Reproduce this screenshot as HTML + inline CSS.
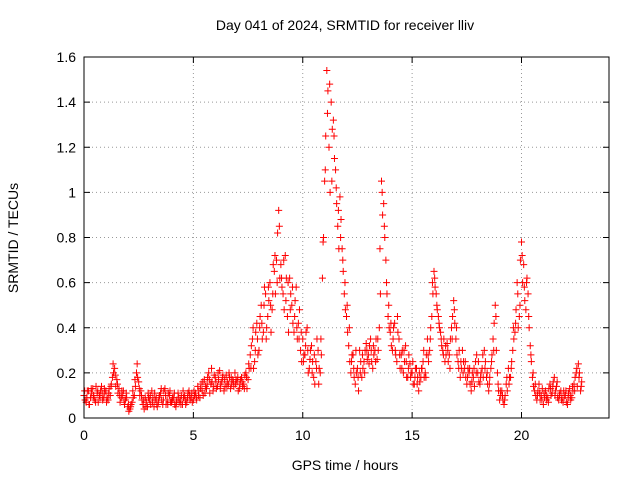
<!DOCTYPE html>
<html><head><meta charset="utf-8"><style>
body{margin:0;background:#fff;}
svg{display:block;font-family:"Liberation Sans",sans-serif;}
</style></head><body>
<svg id="chart" width="640" height="480">
<rect x="0" y="0" width="640" height="480" fill="#fff"/>
<text x="345" y="30" font-size="14" text-anchor="middle">Day 041 of 2024, SRMTID for receiver lliv</text>
<text x="345" y="470" font-size="14" text-anchor="middle">GPS time / hours</text>
<text transform="translate(18,238) rotate(-90)" font-size="14" text-anchor="middle">SRMTID / TECUs</text>
<g id="grid"></g><g id="ticks"></g><g id="marks"></g>
<rect x="84" y="57" width="525" height="361" fill="none" stroke="#000" stroke-width="1"/>
</svg>
<script>
const xTicks=[0,5,10,15,20];
const yTicks=[0,0.2,0.4,0.6,0.8,1,1.2,1.4,1.6];
const yTickLabels=["0","0.2","0.4","0.6","0.8","1","1.2","1.4","1.6"];
const startHour=0, stepHour=0.1;
const srmtidA=[0.10,0.07,0.12,0.09,0.13,0.08,0.11,0.10,0.14,0.09,
0.12,0.08,0.10,0.18,0.22,0.17,0.13,0.09,0.12,0.08,
0.05,0.04,0.07,0.10,0.20,0.16,0.12,0.06,0.09,0.05,
0.08,0.12,0.05,0.09,0.07,0.11,0.06,0.13,0.08,0.10,
0.07,0.09,0.05,0.11,0.08,0.06,0.10,0.07,0.12,0.09,
0.08,0.11,0.14,0.09,0.12,0.17,0.13,0.20,0.15,0.12,
0.18,0.14,0.21,0.16,0.12,0.19,0.15,0.13,0.17,0.20,
0.16,0.13,0.18,0.15,0.20,0.17,0.28,0.35,0.25,0.42,
0.30,0.50,0.38,0.55,0.45,0.60,0.48,0.65,0.70,0.92,
0.68,0.55,0.72,0.45,0.62,0.50,0.38,0.58,0.42,0.30,
0.35,0.28,0.40,0.22,0.32,0.18,0.25,0.30,0.20,0.62,
1.05,1.54,1.20,1.40,1.32,1.10,0.85,0.98,0.75,0.55,
0.45,0.32,0.20,0.28,0.15,0.22,0.30,0.18,0.25,0.33,
0.28,0.35,0.22,0.30,0.26,0.40,1.05,0.95,0.70,0.45,
0.38,0.30,0.42,0.25,0.35,0.28,0.20,0.32,0.18,0.24,
0.20,0.15,0.22,0.12,0.18,0.25,0.20,0.35,0.30,0.45,
0.65,0.55,0.45,0.38,0.30,0.25,0.33,0.28,0.40,0.52,
0.35,0.25,0.18,0.30,0.22,0.15,0.20,0.12,0.18,0.25,
0.20,0.15,0.22,0.30,0.18,0.12,0.22,0.35,0.50,0.20,
0.08,0.12,0.06,0.15,0.22,0.18,0.30,0.38,0.60,0.45,
0.78,0.68,0.48,0.55,0.32,0.18,0.12,0.08,0.15,0.10,
0.06,0.12,0.09,0.15,0.11,0.18,0.14,0.08,0.12,0.07,
0.10,0.06,0.13,0.09,0.15,0.20,0.24,0.12];
const srmtidB=[0.08,0.12,0.06,0.11,0.09,0.14,0.07,0.12,0.08,0.11,
0.09,0.13,0.15,0.20,0.14,0.11,0.07,0.10,0.06,0.09,
0.03,0.06,0.09,0.14,0.18,0.10,0.08,0.04,0.07,0.09,
0.06,0.09,0.08,0.05,0.10,0.08,0.12,0.06,0.11,0.07,
0.09,0.06,0.08,0.07,0.10,0.09,0.06,0.11,0.08,0.07,
0.10,0.08,0.12,0.15,0.10,0.14,0.18,0.11,0.16,0.19,
0.13,0.17,0.15,0.19,0.14,0.16,0.18,0.15,0.14,0.17,
0.12,0.17,0.14,0.19,0.13,0.22,0.32,0.22,0.38,0.28,
0.45,0.35,0.58,0.40,0.52,0.38,0.68,0.55,0.82,0.62,
0.58,0.48,0.62,0.38,0.55,0.42,0.52,0.35,0.48,0.25,
0.28,0.38,0.20,0.30,0.25,0.15,0.35,0.22,0.28,0.80,
1.25,1.45,1.00,1.28,1.15,0.95,0.75,0.88,0.65,0.48,
0.38,0.25,0.28,0.18,0.20,0.12,0.25,0.22,0.30,0.26,
0.32,0.25,0.28,0.35,0.30,0.55,0.90,0.80,0.55,0.40,
0.32,0.40,0.28,0.38,0.22,0.30,0.25,0.18,0.28,0.20,
0.15,0.22,0.18,0.16,0.22,0.18,0.28,0.25,0.40,0.55,
0.58,0.48,0.40,0.32,0.35,0.28,0.25,0.35,0.45,0.42,
0.28,0.30,0.22,0.25,0.18,0.22,0.15,0.20,0.14,0.28,
0.16,0.20,0.18,0.25,0.15,0.18,0.28,0.42,0.30,0.12,
0.10,0.08,0.10,0.12,0.18,0.25,0.35,0.48,0.40,0.70,
0.60,0.52,0.62,0.40,0.25,0.14,0.10,0.12,0.08,0.13,
0.09,0.08,0.13,0.10,0.16,0.12,0.09,0.11,0.09,0.10,
0.07,0.11,0.08,0.12,0.18,0.14,0.20,0.16];
const srmtidC=[0.12,0.09,0.06,0.13,0.10,0.07,0.12,0.09,0.11,0.13,
0.07,0.11,0.14,0.24,0.19,0.15,0.10,0.12,0.08,0.11,
0.06,0.05,0.12,0.17,0.24,0.13,0.10,0.08,0.05,0.11,
0.10,0.07,0.11,0.06,0.09,0.13,0.08,0.10,0.06,0.12,
0.08,0.11,0.07,0.09,0.06,0.12,0.08,0.09,0.10,0.11,
0.12,0.09,0.10,0.13,0.16,0.11,0.15,0.17,0.22,0.14,
0.16,0.20,0.13,0.18,0.17,0.14,0.20,0.18,0.16,0.15,
0.18,0.15,0.16,0.13,0.18,0.24,0.22,0.40,0.30,0.35,
0.40,0.42,0.50,0.35,0.58,0.50,0.55,0.72,0.60,0.85,
0.62,0.70,0.52,0.60,0.48,0.58,0.45,0.40,0.35,0.38,
0.25,0.32,0.30,0.26,0.20,0.28,0.22,0.15,0.35,0.78,
1.10,1.35,1.48,1.05,1.25,1.02,0.92,0.80,0.70,0.60,
0.50,0.40,0.25,0.22,0.30,0.18,0.20,0.28,0.20,0.30,
0.24,0.30,0.32,0.25,0.35,0.75,1.00,0.85,0.60,0.50,
0.42,0.35,0.30,0.45,0.28,0.22,0.30,0.25,0.22,0.18,
0.25,0.18,0.15,0.20,0.22,0.30,0.18,0.28,0.35,0.60,
0.62,0.50,0.42,0.35,0.28,0.32,0.30,0.22,0.35,0.48,
0.40,0.22,0.25,0.20,0.25,0.18,0.22,0.16,0.22,0.20,
0.25,0.18,0.28,0.22,0.20,0.15,0.25,0.30,0.45,0.15,
0.12,0.10,0.08,0.18,0.15,0.22,0.40,0.42,0.55,0.50,
0.72,0.58,0.60,0.45,0.28,0.20,0.15,0.10,0.11,0.08,
0.11,0.10,0.07,0.13,0.14,0.10,0.16,0.10,0.08,0.12,
0.12,0.09,0.10,0.14,0.12,0.22,0.18,0.14];
const NS="http://www.w3.org/2000/svg";
const X0=84,X1=609,Y0=418,Y1=57;
function xs(h){return X0+h*(X1-X0)/24;}
function ys(v){return Y0-v*(Y0-Y1)/1.6;}
const grid=document.getElementById('grid'),ticks=document.getElementById('ticks'),marks=document.getElementById('marks');
function mk(tag,attrs,parent){const e=document.createElementNS(NS,tag);for(const k in attrs)e.setAttribute(k,attrs[k]);parent.appendChild(e);return e;}
xTicks.forEach(t=>{const x=xs(t);
 if(t>0){const g=mk('line',{x1:x,x2:x,y1:Y0,y2:Y1,stroke:'#999','stroke-dasharray':'1,3'},grid);
 
 }
 mk('line',{x1:x,x2:x,y1:Y0,y2:Y0-6,stroke:'#000'},ticks);mk('line',{x1:x,x2:x,y1:Y1,y2:Y1+6,stroke:'#000'},ticks);
 const l=mk('text',{x:x,y:Y0+22,'font-size':14,'text-anchor':'middle'},ticks);l.textContent=t;
 
 });
yTicks.forEach((t,i)=>{const y=ys(t);
 if(t>0&&t<1.6){const g=mk('line',{x1:X0,x2:X1,y1:y,y2:y,stroke:'#999','stroke-dasharray':'1,3'},grid);
 
 }
 mk('line',{x1:X0,x2:X0+6,y1:y,y2:y,stroke:'#000'},ticks);mk('line',{x1:X1,x2:X1-6,y1:y,y2:y,stroke:'#000'},ticks);
 const l=mk('text',{x:X0-8,y:y+5,'font-size':14,'text-anchor':'end'},ticks);l.textContent=yTickLabels[i];
 
 });
function plus(h,v){const x=xs(h),y=ys(v);
 const p=mk('path',{d:`M${x-3.5},${y}H${x+3.5}M${x},${y-3.5}V${y+3.5}`,stroke:'#f00','stroke-width':1,fill:'none'},marks);
 
 }
srmtidA.forEach((v,i)=>plus(startHour+i*stepHour,v));
srmtidB.forEach((v,i)=>plus(startHour+i*stepHour+0.05,v));
srmtidC.forEach((v,i)=>plus(startHour+i*stepHour+0.03,v));
</script>
</body></html>
